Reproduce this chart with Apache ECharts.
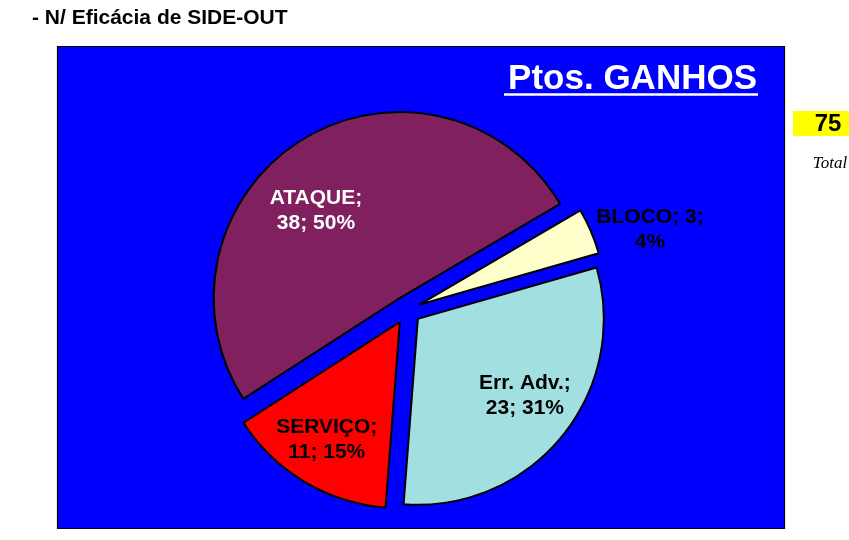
<!DOCTYPE html>
<html>
<head>
<meta charset="utf-8">
<script src="https://cdn.jsdelivr.net/npm/echarts@6/dist/echarts.min.js"></script>
<style>html,body{margin:0;padding:0;background:#fff;}#c{width:849px;height:540px;}</style>
</head>
<body>
<div id="c"></div>
<script>
// Data
const categories = ['BLOCO', 'Err. Adv.', 'SERVIÇO', 'ATAQUE'];
const values = [3, 23, 11, 38];
const percents = [4, 31, 15, 50];
const sliceColors = ['#FFFFCC', '#A2DFE0', '#FF0000', '#80205F'];
const labelColors = ['#000000', '#000000', '#000000', '#FFFFFF'];
const totalValue = '75';
const chartTitle = '- N/ Eficácia de SIDE-OUT';
const boxTitle = 'Ptos. GANHOS';
const totalLabel = 'Total';

// label wrapping and fine-tuning shifts (style only)
const breakAfterValue = [true, false, false, false];
const labelShift = [[4, 22], [4, -7], [-5, 3], [-14, 26]];

const chart = echarts.init(document.getElementById('c'), null, {renderer: 'canvas'});
const CX = 407, CY = 310, R = 186, OFF = 14, START = 30.4;
const labelFont = {fontFamily: 'Arial, "Liberation Sans", sans-serif', fontWeight: 'bold', fontSize: 21, lineHeight: 25};

function labelText(i) {
  return breakAfterValue[i]
    ? categories[i] + '; ' + values[i] + ';\n' + percents[i] + '%'
    : categories[i] + ';\n' + values[i] + '; ' + percents[i] + '%';
}

const mainData = categories.map((n, i) => ({
  name: n, value: values[i], selected: true,
  itemStyle: {color: sliceColors[i]},
  select: {itemStyle: {color: sliceColors[i], borderColor: '#000', borderWidth: 2}}
}));

function labelItem(i, on) {
  return on ? Object.assign({show: true, position: 'inside', color: labelColors[i], formatter: labelText(i), align: 'center'}, labelFont) : {show: false};
}
const overlayA = categories.map((n, i) => ({name: n, value: values[i], selected: true, label: labelItem(i, i !== 0)}));
const overlayB = categories.map((n, i) => ({name: n, value: values[i], selected: true, label: labelItem(i, i === 0)}));

const transparent = {color: 'rgba(0,0,0,0)', borderWidth: 0};
function overlay(data, r0, r1) {
  return {
    type: 'pie', center: [CX, CY], radius: [r0, r1], startAngle: START, clockwise: true,
    selectedMode: 'multiple', selectedOffset: OFF, silent: true, animation: false,
    itemStyle: transparent, select: {itemStyle: transparent}, emphasis: {disabled: true},
    labelLine: {show: false}, z: 5, data: data,
    labelLayout: function (p) { return {dx: labelShift[p.dataIndex][0], dy: labelShift[p.dataIndex][1]}; }
  };
}

chart.setOption({
  animation: false,
  graphic: [
    {type: 'rect', z: 0, shape: {x: 57.5, y: 46.5, width: 727, height: 482}, style: {fill: '#0000FF', stroke: '#000', lineWidth: 1.2}},
    {type: 'text', z: 10, x: 32, y: 18, style: {text: chartTitle, font: 'bold 21px Arial, "Liberation Sans", sans-serif', fill: '#000', textAlign: 'left', textVerticalAlign: 'middle'}},
    {type: 'text', z: 10, x: 757, y: 79, style: {text: boxTitle, font: 'bold 35px Arial, "Liberation Sans", sans-serif', fill: '#fff', textAlign: 'right', textVerticalAlign: 'middle'}},
    {type: 'line', z: 10, shape: {x1: 504, y1: 94.5, x2: 758, y2: 94.5}, style: {stroke: '#fff', lineWidth: 2.5}},
    {type: 'rect', z: 10, shape: {x: 793, y: 111, width: 56, height: 25}, style: {fill: '#FFFF00'}},
    {type: 'text', z: 11, x: 828, y: 124.5, style: {text: totalValue, font: 'bold 24px Arial, "Liberation Sans", sans-serif', fill: '#000', textAlign: 'center', textVerticalAlign: 'middle'}},
    {type: 'text', z: 11, x: 830, y: 164, style: {text: totalLabel, font: 'italic 17px "Liberation Serif", "Times New Roman", serif', fill: '#000', textAlign: 'center', textVerticalAlign: 'middle'}}
  ],
  series: [
    {
      type: 'pie', center: [CX, CY], radius: R, startAngle: START, clockwise: true,
      selectedMode: 'multiple', selectedOffset: OFF, animation: false,
      label: {show: false}, labelLine: {show: false},
      itemStyle: {borderColor: '#000', borderWidth: 2},
      emphasis: {disabled: true}, z: 2,
      data: mainData
    },
    overlay(overlayA, 120, 140),
    overlay(overlayB, 233, 253)
  ]
});
</script>
</body>
</html>
